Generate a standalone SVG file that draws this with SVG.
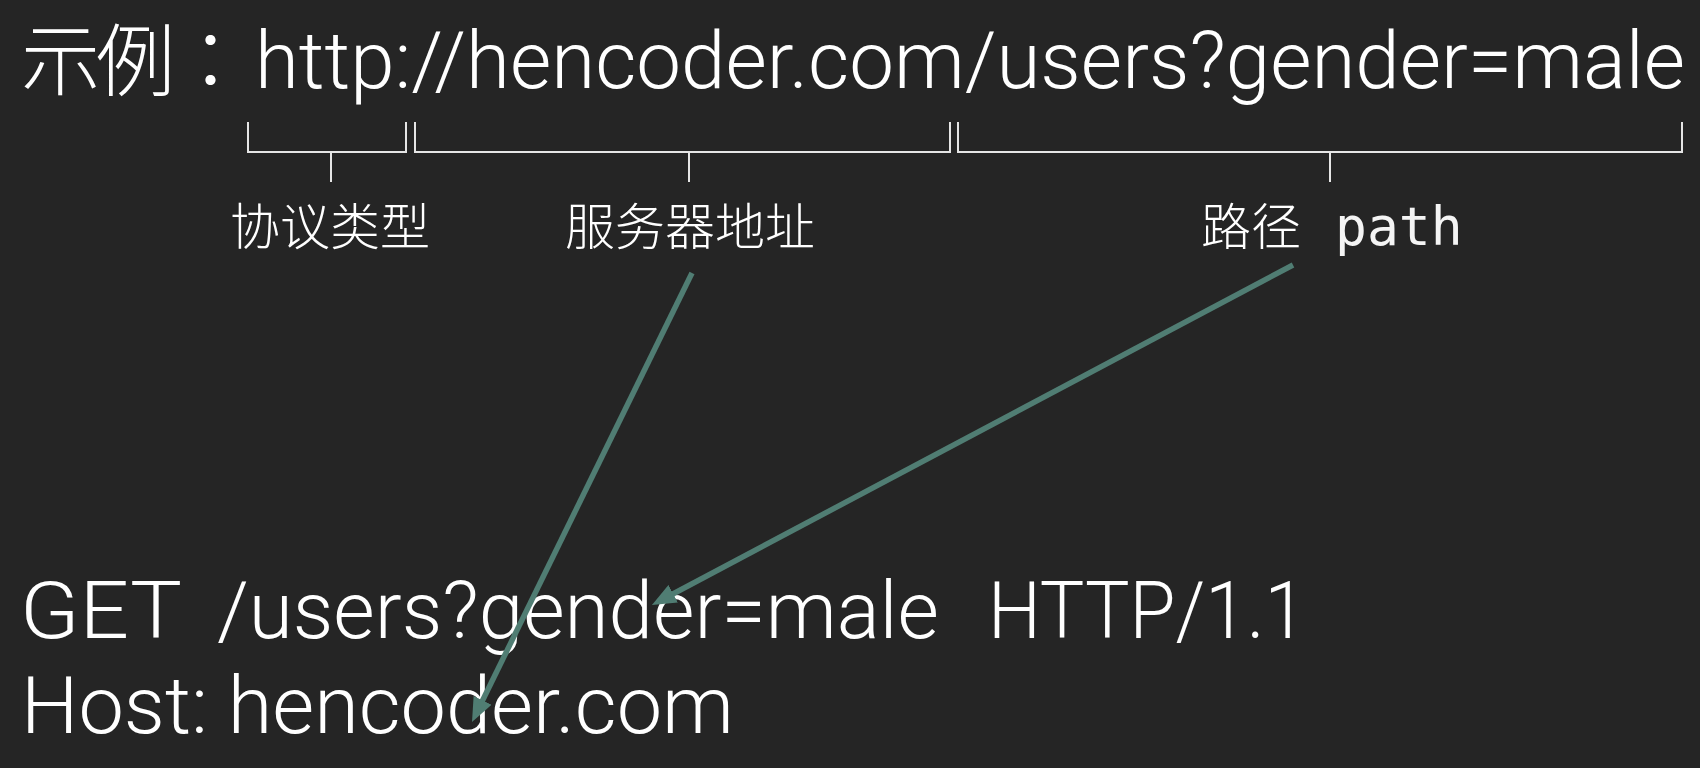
<svg xmlns="http://www.w3.org/2000/svg" width="1700" height="768" viewBox="0 0 1700 768">
<style>
.bg{fill:#252525}
.big{font-family:Roboto,"Liberation Sans","Noto Sans CJK SC",sans-serif;font-weight:300;font-size:79px;fill:#ffffff}
.cjk{font-family:"Noto Sans CJK SC",sans-serif;font-weight:300;fill:#ffffff}
.lbl{font-family:"Noto Sans CJK SC",sans-serif;font-weight:300;font-size:50px;fill:#ffffff;text-anchor:middle}
.mono{font-family:"DejaVu Sans Mono",monospace;font-size:53px;fill:#f4f4f4}
.br{fill:none;stroke:#e6e6e6;stroke-width:2}
.arr{fill:none;stroke:#507d73;stroke-width:5.5}
</style>
<defs>
<marker id="ah" viewBox="0 0 24 20" refX="2" refY="10" markerWidth="24" markerHeight="20" markerUnits="userSpaceOnUse" orient="auto">
<path d="M0,0 L24,10 L0,20 z" fill="#507d73"/>
</marker>
</defs>
<rect class="bg" x="0" y="0" width="1700" height="768"/>
<g id="url">
<text x="21" y="90" font-size="79" fill="#ffffff" font-weight="300" letter-spacing="-4" style="font-family:'Noto Sans CJK TC','Noto Sans CJK SC',sans-serif">示例：</text>
<text class="big" x="255" y="88" textLength="1430" lengthAdjust="spacingAndGlyphs">http://hencoder.com/users?gender=male</text>
</g>
<g id="brackets">
<path class="br" d="M248,122 V152 H406 V122 M331,152 V182"/>
<path class="br" d="M415,122 V152 H950 V122 M689,152 V182"/>
<path class="br" d="M958,122 V152 H1682 V122 M1330,152 V182"/>
</g>
<g id="label-protocol"><text class="lbl" x="330" y="245">协议类型</text></g>
<g id="label-server"><text class="lbl" x="690" y="245">服务器地址</text></g>
<g id="label-path"><text class="cjk" x="1201" y="245" font-size="50">路径</text><text class="mono" x="1335" y="245">path</text></g>
<g id="request">
<text class="big" x="20" y="638" textLength="162" lengthAdjust="spacingAndGlyphs">GET</text>
<text class="big" x="217" y="638" textLength="722" lengthAdjust="spacingAndGlyphs">/users?gender=male</text>
<text class="big" x="988" y="638" textLength="318" lengthAdjust="spacingAndGlyphs">HTTP/1.1</text>
<text class="big" x="21" y="733" textLength="713" lengthAdjust="spacingAndGlyphs">Host: hencoder.com</text>
</g>
<g id="connectors">
<line class="arr" x1="692" y1="273" x2="481.7" y2="702.2" marker-end="url(#ah)"/>
<line class="arr" x1="1293" y1="265" x2="671.4" y2="594.7" marker-end="url(#ah)"/>
</g>
</svg>
